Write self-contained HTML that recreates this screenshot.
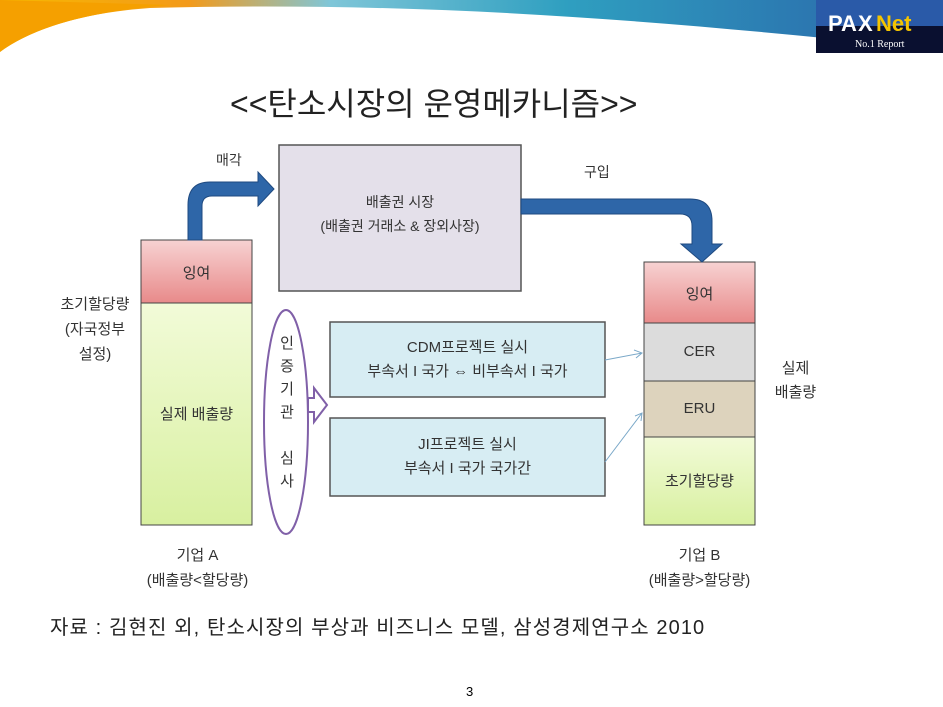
<!DOCTYPE html>
<html><head><meta charset="utf-8"><style>
body{margin:0;width:943px;height:707px;background:#fff;position:relative;overflow:hidden;font-family:"Liberation Sans","Noto Sans CJK KR","NanumGothic",sans-serif;color:#333}
.t{position:absolute;white-space:nowrap}
</style></head><body>
<svg width="943" height="707" style="position:absolute;left:0;top:0">
<defs>
<linearGradient id="ban" x1="0" x2="1" y1="0" y2="0"><stop offset="0" stop-color="#f7b800"/><stop offset="0.2" stop-color="#f39a1a"/><stop offset="0.35" stop-color="#7fc6d8"/><stop offset="0.6" stop-color="#2f9fc0"/><stop offset="1" stop-color="#2a62a8"/></linearGradient>
<linearGradient id="pk" x1="0" y1="0" x2="0" y2="1"><stop offset="0" stop-color="#f7d2d2"/><stop offset="1" stop-color="#e88a8a"/></linearGradient>
<linearGradient id="gr" x1="0" y1="0" x2="0" y2="1"><stop offset="0" stop-color="#f2fbd8"/><stop offset="1" stop-color="#d8f0a0"/></linearGradient>
</defs>
<path d="M0,0 H943 V50 C700,25 450,0 150,8 C80,13 30,30 0,52 Z" fill="url(#ban)"/>
<path d="M0,52 C30,30 80,12 170,5 L0,0 Z" fill="#f5a000"/>
<rect x="816" y="0" width="127" height="53" fill="#0a1030"/>
<rect x="816" y="0" width="127" height="26" fill="#2a5aa8"/>
<text x="828" y="31" font-family="Liberation Sans" font-weight="bold" font-size="22" fill="#fff">PA</text>
<text x="858" y="31" font-family="Liberation Sans" font-weight="bold" font-size="22" fill="#fff">X</text>
<text x="876" y="31" font-family="Liberation Sans" font-weight="bold" font-size="22" fill="#f4c400">Net</text>
<text x="855" y="47" font-family="Liberation Serif" font-size="10" fill="#fff">No.1 Report</text>
<rect x="279" y="145" width="242" height="146" fill="#e4e0ea" stroke="#555" stroke-width="1.5"/>
<rect x="141" y="240" width="111" height="63" fill="url(#pk)" stroke="#444"/>
<rect x="141" y="303" width="111" height="222" fill="url(#gr)" stroke="#444"/>
<rect x="644" y="262" width="111" height="61" fill="url(#pk)" stroke="#444"/>
<rect x="644" y="323" width="111" height="58" fill="#dcdcdc" stroke="#444"/>
<rect x="644" y="381" width="111" height="56" fill="#ddd3bd" stroke="#444"/>
<rect x="644" y="437" width="111" height="88" fill="url(#gr)" stroke="#444"/>
<path d="M188,240 V205 Q188,182 210,182 H258 V172 L274,189 L258,206 V196 H212 Q202,196 202,206 V240 Z" fill="#2e66a8" stroke="#1f4a80"/>
<path d="M521,199 H690 Q712,199 712,221 V244 H722 L702,262 L681,244 H692 V226 Q692,214 680,214 H521 Z" fill="#2e66a8" stroke="#1f4a80"/>
<ellipse cx="286" cy="422" rx="22" ry="112" fill="none" stroke="#8060a8" stroke-width="2"/>
<path d="M308,398 H314 V388 L327,405 L314,422 V412 H308 Z" fill="#fff" stroke="#8060a8" stroke-width="2"/>
<rect x="330" y="322" width="275" height="75" fill="#d7edf3" stroke="#555" stroke-width="1.5"/>
<rect x="330" y="418" width="275" height="78" fill="#d7edf3" stroke="#555" stroke-width="1.5"/>
<path d="M605,360 L642,353 M634,350 L642,353 L636,358" stroke="#7aa8c8" fill="none"/>
<path d="M605,462 L642,413 M635,416 L642,413 L641,421" stroke="#7aa8c8" fill="none"/>
</svg>
<div class="t" style="left:230px;top:79px;font-size:32px;color:#222">&lt;&lt;탄소시장의 운영메카니즘&gt;&gt;</div>
<div class="t" style="left:216px;top:150px;font-size:14px">매각</div>
<div class="t" style="left:584px;top:162px;font-size:14px">구입</div>
<div class="t" style="left:279px;top:190px;width:242px;text-align:center;font-size:14px;line-height:24px">배출권 시장<br>(배출권 거래소 &amp; 장외사장)</div>
<div class="t" style="left:141px;top:262px;width:111px;text-align:center;font-size:15px">잉여</div>
<div class="t" style="left:141px;top:403px;width:111px;text-align:center;font-size:15px">실제 배출량</div>
<div class="t" style="left:50px;top:292px;width:90px;text-align:center;font-size:15px;line-height:25px">초기할당량<br>(자국정부<br>설정)</div>
<div class="t" style="left:277px;top:332px;width:20px;text-align:center;font-size:15px;line-height:23px">인<br>증<br>기<br>관<br><br>심<br>사</div>
<div class="t" style="left:330px;top:336px;width:275px;text-align:center;font-size:15px;line-height:24px">CDM프로젝트 실시<br>부속서 I 국가 ⇔ 비부속서 I 국가</div>
<div class="t" style="left:330px;top:433px;width:275px;text-align:center;font-size:15px;line-height:24px">JI프로젝트 실시<br>부속서 I 국가 국가간</div>
<div class="t" style="left:644px;top:283px;width:111px;text-align:center;font-size:15px">잉여</div>
<div class="t" style="left:644px;top:343px;width:111px;text-align:center;font-size:15px">CER</div>
<div class="t" style="left:644px;top:400px;width:111px;text-align:center;font-size:15px">ERU</div>
<div class="t" style="left:644px;top:470px;width:111px;text-align:center;font-size:15px">초기할당량</div>
<div class="t" style="left:768px;top:357px;width:55px;text-align:center;font-size:15px;line-height:24px">실제<br>배출량</div>
<div class="t" style="left:130px;top:543px;width:135px;text-align:center;font-size:15px;line-height:25px">기업 A<br>(배출량&lt;할당량)</div>
<div class="t" style="left:632px;top:543px;width:135px;text-align:center;font-size:15px;line-height:25px">기업 B<br>(배출량&gt;할당량)</div>
<div class="t" style="left:50px;top:611px;font-size:20px;letter-spacing:1.1px;color:#222">자료 : 김현진 외, 탄소시장의 부상과 비즈니스 모델, 삼성경제연구소 2010</div>
<div class="t" style="left:466px;top:684px;font-size:13px;color:#000">3</div>
</body></html>
